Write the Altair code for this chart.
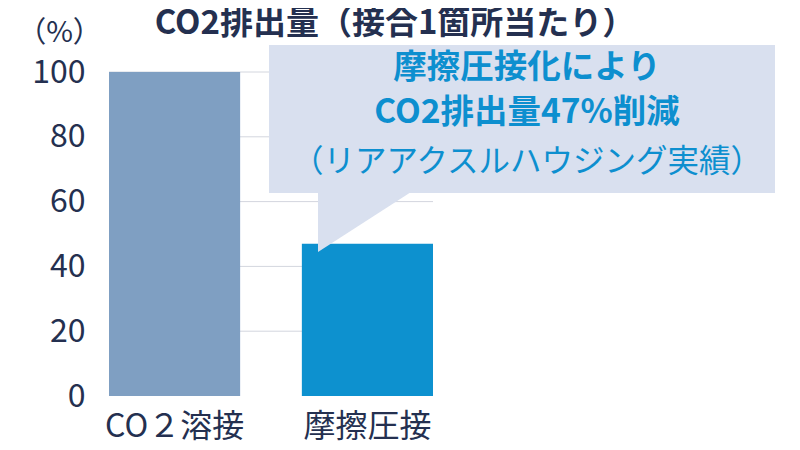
import altair as alt
import pandas as pd

# ---- data ----
methods = ["CO２溶接", "摩擦圧接"]
co2_values = [100, 47]
bar_colors = ["#7f9fc2", "#0d91cf"]
y_ticks = [0, 20, 40, 60, 80, 100]
grid_values = [20, 40, 60, 80, 100]

title_text = "CO2排出量（接合1箇所当たり）"
unit_text = "（%）"
callout_lines = ["摩擦圧接化により", "CO2排出量47%削減", "（リアアクスルハウジング実績）"]

FONT = "Noto Sans CJK JP"
NAVY = "#243050"
BLUE = "#0d8fcf"
BOX = "#d9e0ef"

bars_df = pd.DataFrame({"method": methods, "value": co2_values})
grid_df = pd.DataFrame({"v": grid_values})

x_enc = alt.X(
    "method:N",
    sort=methods,
    scale=alt.Scale(paddingInner=0.32, paddingOuter=0),
    axis=alt.Axis(
        title=None, labelAngle=0, labelFontSize=32, labelColor=NAVY, labelFont=FONT,
        labelPadding=15, ticks=False, domain=False,
    ),
)
y_scale = alt.Scale(domain=[0, 100])

grid = alt.Chart(grid_df).mark_rule(color="#d3d6de", strokeWidth=1).encode(
    y=alt.Y("v:Q", scale=y_scale)
)

bars = alt.Chart(bars_df).mark_bar().encode(
    x=x_enc,
    y=alt.Y(
        "value:Q",
        scale=y_scale,
        axis=alt.Axis(
            values=y_ticks, grid=False, ticks=False, domain=False,
            labelFontSize=32, labelColor=NAVY, labelFont=FONT, labelPadding=24,
            title=unit_text, titleAngle=0, titleX=-50, titleY=-40,
            titleAlign="center", titleBaseline="middle", titleFontSize=29,
            titleFontWeight="normal", titleColor=NAVY, titleFont=FONT,
        ),
    ),
    color=alt.Color("method:N", scale=alt.Scale(domain=methods, range=bar_colors), legend=None),
)

one = pd.DataFrame({"k": [0]})

box = alt.Chart(one).mark_rect(color=BOX).encode(
    x=alt.value(160), x2=alt.value(666), y=alt.value(-27), y2=alt.value(121)
)

pointer = alt.Chart(one).mark_point(
    shape="M-1,-0.05 L1,-0.05 L-1,1.242 Z", filled=True, color=BOX, opacity=1,
    size=95 * 95, strokeWidth=0,
).encode(x=alt.value(256.5), y=alt.value(121))

title = alt.Chart(one).mark_text(
    text=title_text, font=FONT, fontSize=33, fontWeight="bold", color=NAVY,
    align="center", baseline="middle",
).encode(x=alt.value(286), y=alt.value(-48))

line1 = alt.Chart(one).mark_text(
    text=callout_lines[0], font=FONT, fontSize=33.5, fontWeight="bold", color=BLUE,
    align="center", baseline="middle",
).encode(x=alt.value(418), y=alt.value(-4))

line2 = alt.Chart(one).mark_text(
    text=callout_lines[1], font=FONT, fontSize=33.5, fontWeight="bold", color=BLUE,
    align="center", baseline="middle",
).encode(x=alt.value(418), y=alt.value(41))

line3 = alt.Chart(one).mark_text(
    text=callout_lines[2], font=FONT, fontSize=31.5, fontWeight="normal", color=BLUE,
    align="center", baseline="middle",
).encode(x=alt.value(418), y=alt.value(91))

chart = alt.layer(grid, bars, box, pointer, title, line1, line2, line3).properties(
    width=324,
    height=324,
    autosize=alt.AutoSizeParams(type="none"),
    padding={"left": 101, "top": 64, "right": 359, "bottom": 54},
).configure_view(stroke=None)

chart.save("out.html", embed_options={"renderer": "svg", "actions": False})
